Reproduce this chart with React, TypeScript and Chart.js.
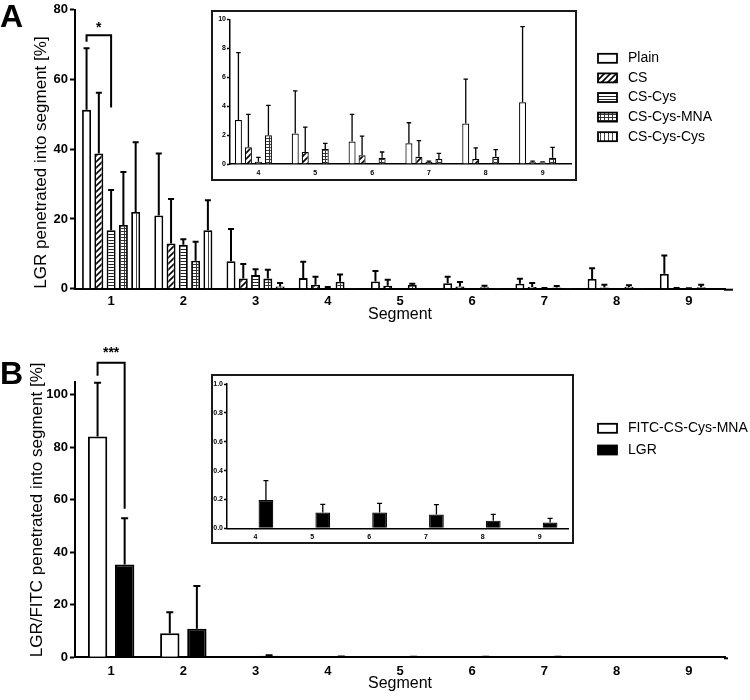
import React, { useEffect, useRef } from "react";
import { Chart, registerables } from "chart.js";

Chart.register(...registerables);

const FONT = "'Liberation Sans', Arial, Helvetica, sans-serif";

// ---------- data ----------
const segments = ["1", "2", "3", "4", "5", "6", "7", "8", "9"];

// Panel A (LGR penetrated into segment [%]), mean and SD
const plainMean = [51.3, 21.0, 7.9, 3.04, 2.1, 1.56, 1.43, 2.8, 4.26];
const plainSD = [17.7, 17.8, 9.2, 4.66, 2.95, 1.87, 1.42, 3.06, 5.24];
const csMean = [38.8, 13.0, 2.95, 1.15, 0.83, 0.6, 0.5, 0.34, 0.12];
const csSD = [17.4, 12.7, 4.15, 2.28, 1.72, 1.33, 1.12, 0.78, 0.08];
const csCysMean = [16.8, 12.6, 3.9, 0.16, 0.03, 0.03, 0.14, 0.05, 0.1];
const csCysSD = [11.5, 1.6, 1.7, 0.3, 0, 0, 0.06, 0, 0.05];
const mnaMean = [18.3, 8.0, 2.9, 1.98, 1.03, 0.43, 0.34, 0.5, 0.43];
const mnaSD = [15.2, 5.5, 2.5, 2.07, 0.4, 0.4, 0.4, 0.49, 0.72];
const cysCysMean = [22.0, 16.8, 0.6, 0.03, 0.05, 0.03, 0.03, 0.03, 0.05];
const cysCysSD = [20.0, 8.6, 1.0, 0, 0, 0, 0, 0, 0];

// Panel B (LGR/FITC penetrated into segment [%])
const fitcMean = [84.1, 9.2, 0, 0, 0, 0, 0, 0, 0];
const fitcSD = [20.5, 8.0, 0, 0, 0, 0, 0, 0, 0];
const lgrMean = [35.4, 10.9, 0.6, 0.196, 0.11, 0.11, 0.095, 0.053, 0.04];
const lgrSD = [17.6, 16.3, 0.2, 0.134, 0.056, 0.063, 0.069, 0.044, 0.029];

const insetFrom = 3; // insets show segments 4..9

// ---------- patterns ----------
function makePattern(kind: string): CanvasPattern | string {
  const c = document.createElement("canvas");
  const ctx = c.getContext("2d")!;
  if (kind === "diag") {
    const s = 6;
    c.width = s; c.height = s;
    ctx.fillStyle = "#fff"; ctx.fillRect(0, 0, s, s);
    ctx.strokeStyle = "#000"; ctx.lineWidth = 1.6;
    ctx.beginPath();
    ctx.moveTo(-1, s + 1); ctx.lineTo(s + 1, -1);
    ctx.moveTo(-2, 2); ctx.lineTo(2, -2);
    ctx.moveTo(s - 2, s + 2); ctx.lineTo(s + 2, s - 2);
    ctx.stroke();
  } else if (kind === "horiz") {
    c.width = 4; c.height = 3;
    ctx.fillStyle = "#fff"; ctx.fillRect(0, 0, 4, 3);
    ctx.fillStyle = "#222"; ctx.fillRect(0, 0, 4, 1);
  } else if (kind === "grid") {
    c.width = 4; c.height = 3;
    ctx.fillStyle = "#fff"; ctx.fillRect(0, 0, 4, 3);
    ctx.fillStyle = "#333"; ctx.fillRect(0, 0, 4, 1); ctx.fillRect(0, 0, 1, 3);
  } else if (kind === "vert") {
    c.width = 4; c.height = 4;
    ctx.fillStyle = "#fff"; ctx.fillRect(0, 0, 4, 4);
    ctx.fillStyle = "#444"; ctx.fillRect(0, 0, 1, 4);
  } else {
    return "#fff";
  }
  return ctx.createPattern(c, "repeat")!;
}

// ---------- plugins ----------
const errorBarPlugin = {
  id: "errorBars",
  afterDatasetsDraw(chart: any, _a: any, o: any) {
    const ctx = chart.ctx;
    const y = chart.scales.y;
    chart.data.datasets.forEach((ds: any, di: number) => {
      if (!ds.errors) return;
      const meta = chart.getDatasetMeta(di);
      meta.data.forEach((el: any, i: number) => {
        const v = ds.data[i];
        const e = ds.errors[i];
        if (v == null || !e) return;
        const x = el.x;
        const y0 = y.getPixelForValue(v);
        const y1 = y.getPixelForValue(v + e);
        ctx.save();
        ctx.strokeStyle = "#000";
        ctx.lineWidth = o.lineWidth;
        ctx.beginPath();
        ctx.moveTo(x, y0);
        ctx.lineTo(x, y1);
        ctx.moveTo(x - o.cap / 2, y1);
        ctx.lineTo(x + o.cap / 2, y1);
        ctx.stroke();
        ctx.restore();
      });
    });
  },
};

const bracketPlugin = {
  id: "sigBracket",
  afterDraw(chart: any, _a: any, o: any) {
    if (!o || !o.show) return;
    const ctx = chart.ctx;
    const y = chart.scales.y;
    const xa = chart.getDatasetMeta(o.fromDs).data[o.fromIdx].x;
    const xb = chart.getDatasetMeta(o.toDs).data[o.toIdx].x;
    const yTop = y.getPixelForValue(o.top);
    const yL = y.getPixelForValue(o.leftEnd);
    const yR = y.getPixelForValue(o.rightEnd);
    ctx.save();
    ctx.strokeStyle = "#000";
    ctx.lineWidth = 2;
    ctx.beginPath();
    ctx.moveTo(xa, yL);
    ctx.lineTo(xa, yTop);
    ctx.lineTo(xb, yTop);
    ctx.lineTo(xb, yR);
    ctx.stroke();
    ctx.fillStyle = "#000";
    ctx.font = `bold 14px ${FONT}`;
    ctx.textAlign = "center";
    ctx.textBaseline = "middle";
    ctx.fillText(o.text, (xa + xb) / 2, y.getPixelForValue(o.textAt));
    ctx.restore();
  },
};

const legendPlugin = {
  id: "boxLegend",
  afterDraw(chart: any, _a: any, o: any) {
    if (!o || !o.show) return;
    const ctx = chart.ctx;
    ctx.save();
    chart.data.datasets.forEach((ds: any, i: number) => {
      const cy = o.y + i * o.gap;
      ctx.fillStyle = ds.backgroundColor;
      ctx.fillRect(o.x, cy - o.h / 2, o.w, o.h);
      ctx.strokeStyle = "#000";
      ctx.lineWidth = 1.8;
      ctx.strokeRect(o.x, cy - o.h / 2, o.w, o.h);
      ctx.fillStyle = "#000";
      ctx.font = `14px ${FONT}`;
      ctx.textAlign = "left";
      ctx.textBaseline = "middle";
      ctx.fillText(ds.label, o.textX, cy);
    });
    ctx.restore();
  },
};

const axisExtPlugin = {
  id: "axisExt",
  afterDraw(chart: any, _a: any, o: any) {
    if (!o || !o.ext) return;
    const ctx = chart.ctx;
    const a = chart.chartArea;
    ctx.save();
    ctx.strokeStyle = "#000";
    ctx.lineWidth = o.width;
    ctx.beginPath();
    ctx.moveTo(a.right - 1, a.bottom + o.width / 2);
    ctx.lineTo(a.right + o.ext, a.bottom + o.width / 2);
    ctx.stroke();
    ctx.restore();
  },
};

const allPlugins = [errorBarPlugin, bracketPlugin, legendPlugin, axisExtPlugin];

function ds(label: string, data: number[], errors: number[], bg: any, bw: number) {
  return {
    label,
    data,
    errors,
    backgroundColor: bg,
    borderColor: "#000",
    borderWidth: bw,
    borderSkipped: "start",
  };
}

function baseScales(o: any) {
  return {
    x: {
      type: "category",
      offset: true,
      grid: { display: false, drawTicks: false },
      border: { display: true, color: "#000", width: o.axisW },
      ticks: { color: "#000", font: { family: FONT, size: o.tickSize, weight: "bold" }, padding: o.xPad },
      title: o.xTitle
        ? { display: true, text: o.xTitle, color: "#000", font: { family: FONT, size: 16 }, padding: { top: 0, bottom: o.xTitlePad } }
        : { display: false },
      afterFit: (s: any) => { s.height = o.xH; },
    },
    y: {
      min: 0,
      max: o.max,
      ticks: {
        stepSize: o.step,
        includeBounds: false,
        color: "#000",
        font: { family: FONT, size: o.tickSize, weight: "bold" },
        padding: o.yPad,
        callback: o.fmt ? (v: any) => Number(v).toFixed(1) : (v: any) => String(v),
      },
      grid: { display: true, drawOnChartArea: false, drawTicks: true, tickLength: o.tickLen, tickWidth: o.axisW, tickColor: "#000" },
      border: { display: true, color: "#000", width: o.axisW },
      title: o.yTitle
        ? { display: true, text: o.yTitle, align: "start", color: "#000", font: { family: FONT, size: 17 }, padding: { top: o.yTitlePad, bottom: 0 } }
        : { display: false },
      afterFit: (s: any) => { s.width = o.yW; },
    },
  };
}

function common(padding: any, cat: number, bar: number, plugins: any, scales: any) {
  return {
    responsive: false,
    animation: false,
    events: [],
    layout: { padding },
    datasets: { bar: { categoryPercentage: cat, barPercentage: bar } },
    plugins: { legend: { display: false }, tooltip: { enabled: false }, title: { display: false }, ...plugins },
    scales,
  };
}

function buildA(inset: boolean) {
  const pats = [makePattern("plain"), makePattern("diag"), makePattern("horiz"), makePattern("grid"), makePattern("vert")];
  const s = (arr: number[]) => (inset ? arr.slice(insetFrom) : arr);
  const bw = inset ? 1.2 : 1.8;
  const datasets = [
    ds("Plain", s(plainMean), s(plainSD), pats[0], bw),
    ds("CS", s(csMean), s(csSD), pats[1], bw),
    ds("CS-Cys", s(csCysMean), s(csCysSD), pats[2], bw),
    ds("CS-Cys-MNA", s(mnaMean), s(mnaSD), pats[3], bw),
    ds("CS-Cys-Cys", s(cysCysMean), s(cysCysSD), pats[4], bw),
  ];
  if (inset) {
    return {
      type: "bar",
      data: { labels: segments.slice(insetFrom), datasets },
      options: common(
        { top: 7.3, right: 4, left: 0, bottom: 0 }, 0.88, 0.7,
        { errorBars: { lineWidth: 1.3, cap: 4.5 } },
        baseScales({ axisW: 1.5, tickSize: 7, xPad: 5, xH: 15, max: 10, step: 2, yPad: 1, tickLen: 3, yW: 17 })
      ),
      plugins: allPlugins,
    };
  }
  return {
    type: "bar",
    data: { labels: segments, datasets },
    options: common(
      { top: 9.3, right: 25, left: 0, bottom: 0 }, 0.85, 0.73,
      {
        errorBars: { lineWidth: 2, cap: 6 },
        sigBracket: { show: true, fromDs: 0, fromIdx: 0, toDs: 2, toIdx: 0, top: 72.7, leftEnd: 70.8, rightEnd: 52, text: "*", textAt: 74.7 },
        boxLegend: { show: true, x: 598, y: 58.3, gap: 19.6, w: 19, h: 9, textX: 628 },
        axisExt: { ext: 8, width: 2 },
      },
      baseScales({
        axisW: 2, tickSize: 13, xPad: 5, xH: 41.3, max: 80, step: 20, yPad: 2, tickLen: 5, yW: 75,
        xTitle: "Segment", xTitlePad: 5.4, yTitle: "LGR penetrated into segment [%]", yTitlePad: 30.8,
      })
    ),
    plugins: allPlugins,
  };
}

function buildB(inset: boolean) {
  const s = (arr: number[]) => (inset ? arr.slice(insetFrom) : arr);
  const bw = inset ? 1.2 : 2;
  const datasets = [
    ds("FITC-CS-Cys-MNA", s(fitcMean), s(fitcSD), "#fff", bw),
    ds("LGR", s(lgrMean), s(lgrSD), "#000", bw),
  ];
  if (inset) {
    return {
      type: "bar",
      data: { labels: segments.slice(insetFrom), datasets },
      options: common(
        { top: 8, right: 4, left: 0, bottom: 0 }, 0.74, 0.7,
        { errorBars: { lineWidth: 1.3, cap: 5 } },
        baseScales({ axisW: 1.5, tickSize: 7, xPad: 4.2, xH: 13.7, max: 1, step: 0.2, yPad: 1, tickLen: 3, yW: 14, fmt: true })
      ),
      plugins: allPlugins,
    };
  }
  return {
    type: "bar",
    data: { labels: segments, datasets },
    options: common(
      { top: 41.7, right: 25, left: 0, bottom: 0 }, 0.75, 0.715,
      {
        errorBars: { lineWidth: 2, cap: 7 },
        sigBracket: { show: true, fromDs: 0, fromIdx: 0, toDs: 1, toIdx: 0, top: 112.2, leftEnd: 107.3, rightEnd: 56.6, text: "***", textAt: 115.8 },
        boxLegend: { show: true, x: 598, y: 88.3, gap: 21.7, w: 19, h: 9, textX: 628 },
        axisExt: { ext: 3, width: 2 },
      },
      baseScales({
        axisW: 2, tickSize: 13, xPad: 6.6, xH: 42.7, max: 105, step: 20, yPad: 2, tickLen: 5, yW: 75,
        xTitle: "Segment", xTitlePad: 6.4, yTitle: "LGR/FITC penetrated into segment [%]", yTitlePad: 26.8,
      })
    ),
    plugins: allPlugins,
  };
}

function ChartCanvas({ build, width, height, style }: { build: () => any; width: number; height: number; style: any }) {
  const ref = useRef<HTMLCanvasElement>(null);
  useEffect(() => {
    const chart = new Chart(ref.current as HTMLCanvasElement, build());
    return () => chart.destroy();
  }, []);
  return <canvas ref={ref} width={width} height={height} style={{ position: "absolute", width, height, display: "block", ...style }} />;
}

const insetBox = (left: number, top: number, width: number, height: number): any => ({
  position: "absolute",
  left,
  top,
  width,
  height,
  boxSizing: "border-box",
  border: "2px solid #1a1a1a",
  background: "#fff",
});

const letter = (top: number): any => ({
  position: "absolute",
  left: 0,
  top,
  fontFamily: FONT,
  fontWeight: "bold",
  fontSize: 32,
  lineHeight: 1,
  color: "#000",
});

export default function App() {
  return (
    <div style={{ position: "fixed", left: 0, top: 0, width: 750, height: 700, background: "#fff", overflow: "hidden" }}>
      <ChartCanvas build={() => buildA(false)} width={750} height={330} style={{ left: 0, top: 0 }} />
      <div style={insetBox(211, 10, 366, 171)}>
        <ChartCanvas build={() => buildA(true)} width={362} height={167} style={{ left: 0, top: 0 }} />
      </div>
      <ChartCanvas build={() => buildB(false)} width={750} height={360} style={{ left: 0, top: 340 }} />
      <div style={insetBox(211, 374, 363, 170)}>
        <ChartCanvas build={() => buildB(true)} width={359} height={166} style={{ left: 0, top: 0 }} />
      </div>
      <div style={letter(0)}>A</div>
      <div style={letter(357)}>B</div>
    </div>
  );
}
